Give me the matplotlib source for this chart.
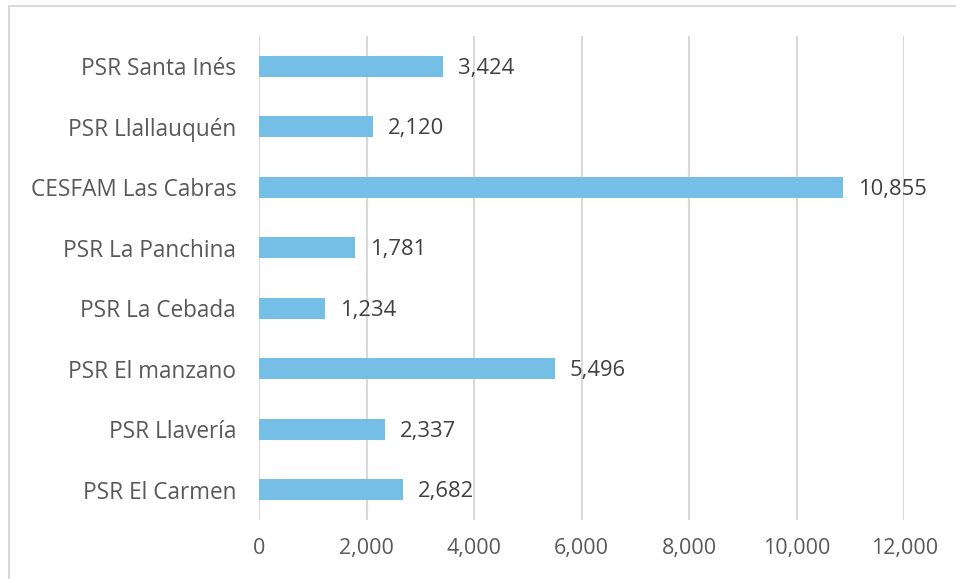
import matplotlib.pyplot as plt
from matplotlib.patches import Rectangle
from matplotlib.ticker import FuncFormatter

# datos de atenciones por establecimiento (de abajo hacia arriba)
establecimientos = ['PSR El Carmen', 'PSR Llavería', 'PSR El manzano', 'PSR La Cebada',
                    'PSR La Panchina', 'CESFAM Las Cabras', 'PSR Llallauquén', 'PSR Santa Inés']
atenciones = [2682, 2337, 5496, 1234, 1781, 10855, 2120, 3424]
ticks_x = [0, 2000, 4000, 6000, 8000, 10000, 12000]

plt.rcParams['font.family'] = ['Open Sans', 'DejaVu Sans']

fig = plt.figure(figsize=(9.56, 5.79), dpi=100)
ax = fig.add_axes([0.271, 0.102, 0.675, 0.836])

# marco gris alrededor del gráfico
fig.patches.append(Rectangle((9 / 956, -0.05), 1.2, 1 - 6 / 579 + 0.05, transform=fig.transFigure,
                             fill=False, edgecolor='#D9D9D9', linewidth=1.5))

pos = range(len(establecimientos))
barras = ax.barh(pos, atenciones, height=0.35, color='#75BEE5', zorder=3)

for b, v in zip(barras, atenciones):
    ax.annotate(f'{v:,}', (b.get_width(), b.get_y() + b.get_height() / 2),
                xytext=(15, -2), textcoords='offset pixels',
                va='center', ha='left', fontsize=15.8, color='#404040')

ax.set_xlim(0, 12000)
ax.set_ylim(-0.5, len(establecimientos) - 0.5)
ax.set_xticks(ticks_x)
ax.xaxis.set_major_formatter(FuncFormatter(lambda x, p: f'{int(x):,}'))
ax.set_yticks(list(pos))
ax.set_yticklabels(establecimientos)

ax.grid(axis='x', color='#D9D9D9', linewidth=1.5, zorder=0)
for s in ax.spines.values():
    s.set_visible(False)
ax.tick_params(axis='x', length=0, labelsize=15.5, labelcolor='#595959', pad=13)
ax.tick_params(axis='y', length=0, labelsize=16.3, labelcolor='#595959', pad=16.5)

fig.savefig('out.png', dpi=100)
